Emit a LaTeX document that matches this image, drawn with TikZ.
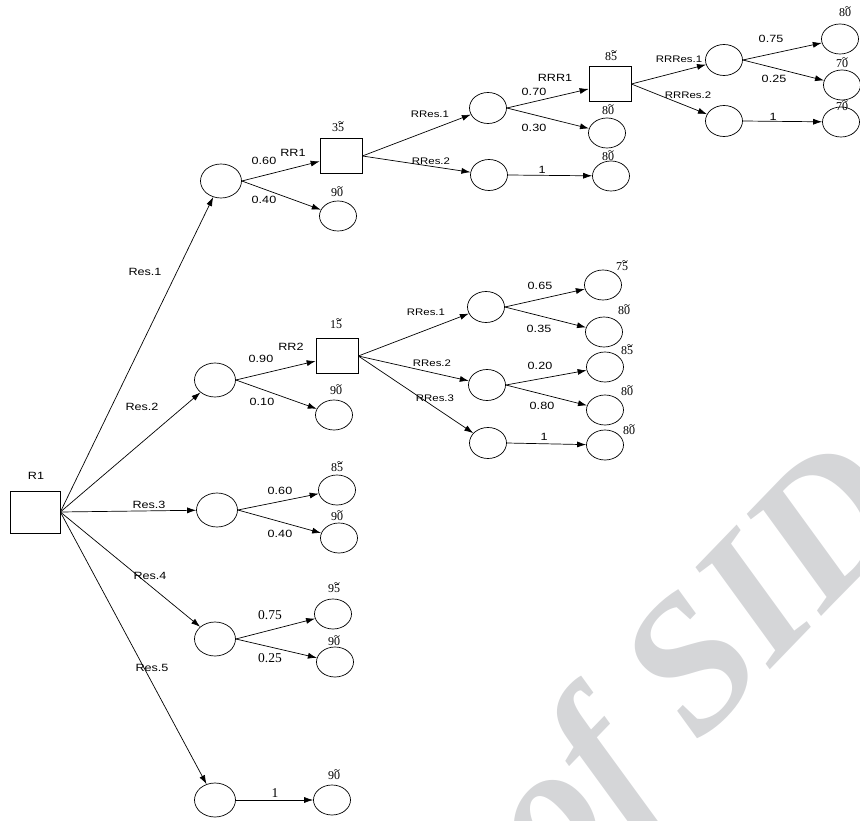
\documentclass[tikz,border=0pt]{standalone}
\usepackage{fontspec}
\setmainfont{Liberation Serif}
\setsansfont{Liberation Sans}[FakeStretch=1.2]
\usetikzlibrary{shapes.geometric,arrows.meta}
\definecolor{wmgray}{RGB}{213,214,216}
\newcommand{\tval}[2]{#1\ooalign{#2\cr\hidewidth\raisebox{0.48em}{\scalebox{0.9}[1]{\textasciitilde}}\hidewidth\cr}}
\tikzset{
  decbox/.style={draw, rectangle, minimum width=42pt, minimum height=35pt, inner sep=0pt},
  chance/.style={draw, ellipse, minimum width=41pt, minimum height=34pt, inner sep=0pt},
  subchance/.style={draw, ellipse, minimum width=37pt, minimum height=31pt, inner sep=0pt},
  leaf/.style={draw, ellipse, minimum width=37pt, minimum height=30pt, inner sep=0pt},
  arr/.style={-{Latex[length=9pt,width=6pt]}},
  lbl/.style={font=\sffamily\fontsize{10.5}{12}\selectfont, inner sep=0pt},
  slbl/.style={font=\sffamily\fontsize{9.5}{11}\selectfont, inner sep=0pt},
  val/.style={font=\rmfamily\fontsize{12}{14}\selectfont, inner sep=0pt},
  plbl/.style={font=\rmfamily\fontsize{13.5}{15}\selectfont, inner sep=0pt}
}
\begin{document}
\begin{tikzpicture}[x=1pt, y=-1pt, line width=0.7pt]
    \useasboundingbox (0,0) rectangle (860,821);

    % watermark
    \node[rotate=46, text=wmgray, inner sep=0pt,
          font=\rmfamily\bfseries\itshape\fontsize{190}{190}\selectfont] (wm) at (703,672) {of SID};

    % Root and first level
    \node[decbox, minimum width=50pt, minimum height=42pt] (r1) at (35,512) {};
    \node[lbl] (r1l) at (36,476) {R1};
    \node[chance] (a1) at (221,181) {};
    \node[chance] (a2) at (215,380) {};
    \node[chance] (a3) at (217,510) {};
    \node[chance] (a4) at (215,639) {};
    \node[chance] (a5) at (215,800) {};

    % Res.1 branch
    \node[decbox] (rr1) at (341,156) {};
    \node[leaf] (rr1n) at (338,216) {};
    \node[subchance] (b11) at (488,108) {};
    \node[subchance] (b12) at (489,175) {};
    \node[decbox] (rrr1) at (610,84) {};
    \node[leaf] (b11n) at (607,133) {};
    \node[leaf] (b12n) at (611,176) {};
    \node[subchance] (c1) at (724,60) {};
    \node[subchance] (c2) at (724,121) {};
    \node[leaf] (c1a) at (840,39) {};
    \node[leaf] (c1b) at (842,85) {};
    \node[leaf] (c2n) at (841,122) {};

    % Res.2 branch
    \node[decbox] (rr2) at (337,356) {};
    \node[leaf] (rr2n) at (334,415) {};
    \node[subchance] (b21) at (486,307) {};
    \node[subchance] (b22) at (487,385) {};
    \node[subchance] (b23) at (488,443) {};
    \node[leaf] (b21a) at (603,285) {};
    \node[leaf] (b21b) at (604,332) {};
    \node[leaf] (b22a) at (605,367) {};
    \node[leaf] (b22b) at (605,410) {};
    \node[leaf] (b23n) at (605,445) {};

    % Res.3, Res.4, Res.5 branches
    \node[leaf] (a3a) at (337,490) {};
    \node[leaf] (a3b) at (339,538) {};
    \node[leaf] (a4a) at (333,614) {};
    \node[leaf] (a4b) at (335,662) {};
    \node[leaf] (a5n) at (332,800) {};

    % Connectors
    \foreach \s/\t in {r1/a1, r1/a2, r1/a3, r1/a4, r1/a5,
                       a1/rr1, a1/rr1n, rr1/b11, rr1/b12, b11/rrr1, b11/b11n, b12/b12n,
                       rrr1/c1, rrr1/c2, c1/c1a, c1/c1b, c2/c2n,
                       a2/rr2, a2/rr2n, rr2/b21, rr2/b22, rr2/b23,
                       b21/b21a, b21/b21b, b22/b22a, b22/b22b, b23/b23n,
                       a3/a3a, a3/a3b, a4/a4a, a4/a4b, a5/a5n}{
        \draw[arr] (\s.east) -- (\t);
    }

    % Labels
    \node[lbl] (lres1) at (145,272) {Res.1};
    \node[lbl] (lres2) at (142,407) {Res.2};
    \node[lbl] (lres3) at (149,505) {Res.3};
    \node[lbl] (lres4) at (150,576) {Res.4};
    \node[lbl] (lres5) at (152,668) {Res.5};

    \node[lbl] (p11) at (264,161) {0.60};
    \node[lbl] (lrr1) at (293,153) {RR1};
    \node[lbl] (p12) at (264,200) {0.40};
    \node[slbl] (lrres11) at (430,114) {RRes.1};
    \node[slbl] (lrres12) at (431,161) {RRes.2};
    \node[lbl] (p111) at (534,92) {0.70};
    \node[lbl] (lrrr1) at (555,78) {RRR1};
    \node[lbl] (p112) at (534,128) {0.30};
    \node[lbl] (p121) at (542,170) {1};
    \node[slbl] (lrrres1) at (679,59) {RRRes.1};
    \node[slbl] (lrrres2) at (688,95) {RRRes.2};
    \node[lbl] (p1111) at (771,39) {0.75};
    \node[lbl] (p1112) at (774,79) {0.25};
    \node[lbl] (p1121) at (773,117) {1};

    \node[lbl] (p21) at (261,359) {0.90};
    \node[lbl] (lrr2) at (291,347) {RR2};
    \node[lbl] (p22) at (262,402) {0.10};
    \node[slbl] (lrres21) at (426,312) {RRes.1};
    \node[slbl] (lrres22) at (432,363) {RRes.2};
    \node[slbl] (lrres23) at (435,398) {RRes.3};
    \node[lbl] (p211) at (540,286) {0.65};
    \node[lbl] (p212) at (539,329) {0.35};
    \node[lbl] (p221) at (540,366) {0.20};
    \node[lbl] (p222) at (542,406) {0.80};
    \node[lbl] (p231) at (544,437) {1};

    \node[lbl] (p31) at (280,491) {0.60};
    \node[lbl] (p32) at (280,534) {0.40};
    \node[plbl] (p41) at (270,615) {0.75};
    \node[plbl] (p42) at (270,658) {0.25};
    \node[plbl] (p51) at (275,793) {1};

    % Values
    \node[val] (vrr1) at (338,128) {\tval{3}{5}};
    \node[val] (vrr1n) at (337,193) {\tval{9}{0}};
    \node[val] (vrrr1) at (611,57) {\tval{8}{5}};
    \node[val] (vb11n) at (608,111) {\tval{8}{0}};
    \node[val] (vb12n) at (608,157) {\tval{8}{0}};
    \node[val] (vc1a) at (845,13) {\tval{8}{0}};
    \node[val] (vc1b) at (842,64) {\tval{7}{0}};
    \node[val] (vc2n) at (842,107) {\tval{7}{0}};
    \node[val] (vrr2) at (336,325) {\tval{1}{5}};
    \node[val] (vrr2n) at (336,391) {\tval{9}{0}};
    \node[val] (vb21a) at (622,267) {\tval{7}{5}};
    \node[val] (vb21b) at (624,311) {\tval{8}{0}};
    \node[val] (vb22a) at (627,351) {\tval{8}{5}};
    \node[val] (vb22b) at (627,392) {\tval{8}{0}};
    \node[val] (vb23n) at (629,431) {\tval{8}{0}};
    \node[val] (va3a) at (337,468) {\tval{8}{5}};
    \node[val] (va3b) at (337,517) {\tval{9}{0}};
    \node[val] (va4a) at (334,589) {\tval{9}{5}};
    \node[val] (va4b) at (334,642) {\tval{9}{0}};
    \node[val] (va5n) at (334,776) {\tval{9}{0}};
\end{tikzpicture}
\end{document}
